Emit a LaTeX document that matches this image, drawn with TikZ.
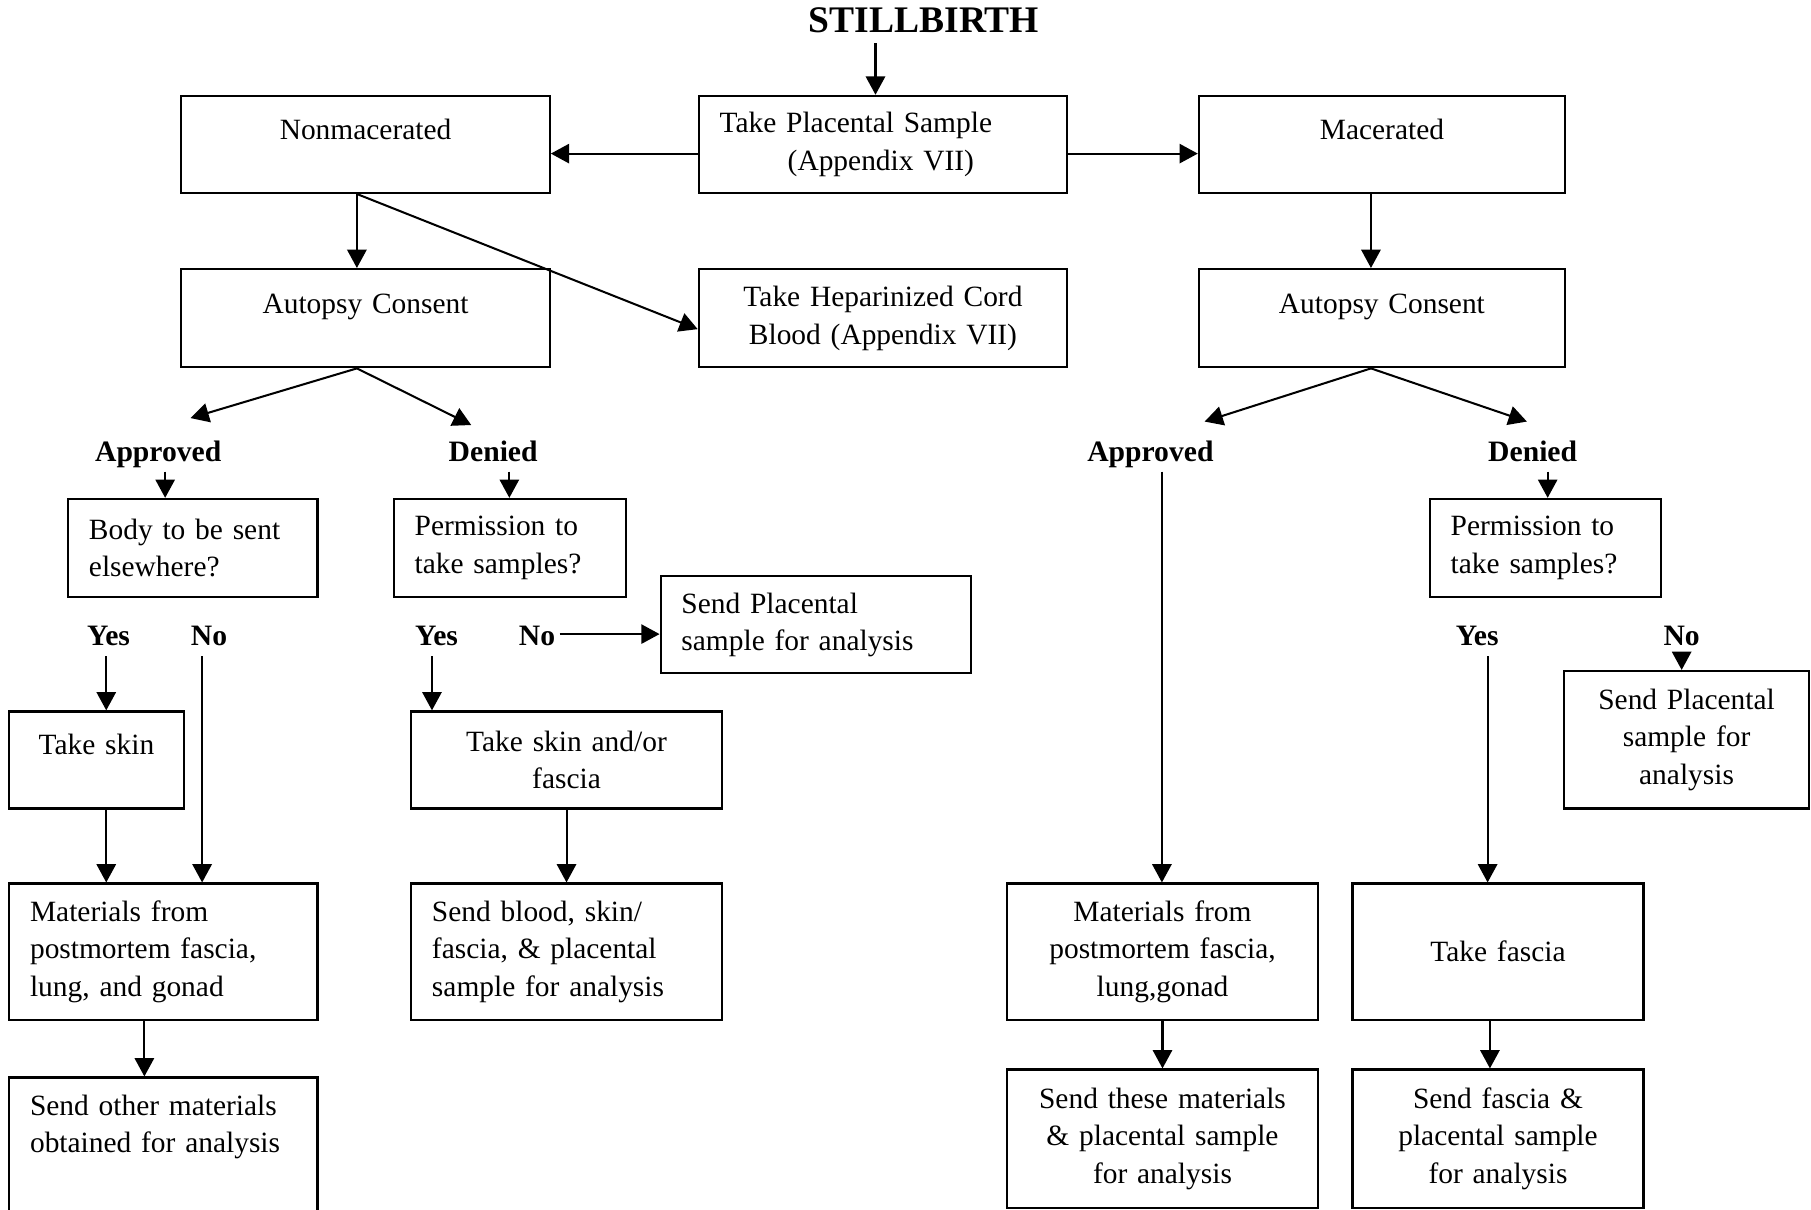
\documentclass[tikz,border=0pt]{standalone}
\usepackage{fontspec}
\setmainfont{Liberation Serif}
\usetikzlibrary{arrows.meta}
\tikzstyle{edge}=[->, >={Triangle[length=9pt,width=9.5pt]},
                  line width=1pt]
\tikzstyle{box}=[draw, rectangle, line width=1.1pt,
                 inner xsep=0.36cm, inner ysep=0pt]
\tikzstyle{uptext}=[text height=10pt, text depth=15pt]
\tikzstyle{lbl}=[font=\fontsize{14.6}{18.5}\selectfont\bfseries, inner sep=2pt,
                 text height=10pt, text depth=3pt]

\begin{document}
\begin{tikzpicture}[x=0.02cm, y=-0.02cm,
                    font=\fontsize{14.5}{18.5}\selectfont]
     \useasboundingbox (0,0) rectangle (1568,1047);
     \clip (0,0) rectangle (1568,1047);

     % top row
     \node (title) at (800,22) [lbl, font=\fontsize{18.5}{22}\selectfont\bfseries]{STILLBIRTH};
     \node (nmac) at (316.5,125) [box, uptext, align=center, text width=5.66cm, minimum height=1.68cm]{Nonmacerated};
     \node (tps) at (764.5,125) [box, align=left, text width=5.66cm, minimum height=1.68cm]{Take Placental Sample\\\hspace*{1.18cm}(Appendix VII)};
     \node (mac) at (1196.5,125) [box, uptext, align=center, text width=5.62cm, minimum height=1.68cm]{Macerated};

     \node (acl) at (316.5,275.5) [box, uptext, align=center, text width=5.66cm, minimum height=1.70cm]{Autopsy Consent};
     \node (hep) at (764.5,275.5) [box, align=center, text width=5.66cm, minimum height=1.70cm]{Take Heparinized Cord\\Blood (Appendix VII)};
     \node (acr) at (1196.5,275.5) [box, uptext, align=center, text width=5.62cm, minimum height=1.70cm]{Autopsy Consent};

     % outcome labels
     \node (appl) at (137,393) [lbl]{Approved};
     \node (denl) at (427,393) [lbl]{Denied};
     \node (appr) at (996,393) [lbl]{Approved};
     \node (denr) at (1327,393) [lbl]{Denied};

     \node (body) at (167,474.5) [box, align=left, text width=3.60cm, minimum height=1.70cm]{Body to be sent\\elsewhere?};
     \node (perl) at (441.5,474.5) [box, align=left, text width=3.30cm, minimum height=1.70cm]{Permission to\\take samples?};
     \node (pr) at (1338,474.5) [box, align=left, text width=3.28cm, minimum height=1.70cm]{Permission to\\take samples?};
     \node (spl) at (706.5,541) [box, align=left, text width=4.66cm, minimum height=1.68cm]{Send Placental\\sample for analysis};

     \node (yes1) at (94,553) [lbl]{Yes};
     \node (no1) at (181,553) [lbl]{No};
     \node (yes2) at (378,553) [lbl]{Yes};
     \node (no2) at (465,553) [lbl]{No};
     \node (yes3) at (1279,553) [lbl]{Yes};
     \node (no3) at (1456,553) [lbl]{No};

     \node (skin) at (83.5,658) [box, uptext, align=center, text width=2.30cm, minimum height=1.68cm]{Take skin};
     \node (skfa) at (490.5,658) [box, align=center, text width=4.66cm, minimum height=1.68cm]{Take skin and/or\\fascia};
     \node (sp2) at (1460.25,640.5) [box, align=center, text width=3.53cm, minimum height=2.38cm]{Send Placental\\sample for\\analysis};

     \node (matl) at (141.5,824) [box, align=left, text width=4.62cm, minimum height=2.36cm]{Materials from\\postmortem fascia,\\lung, and gonad};
     \node (sblood) at (490.5,824) [box, align=left, text width=4.66cm, minimum height=2.36cm]{Send blood, skin/\\fascia, \& placental\\sample for analysis};
     \node (mat2) at (1006.5,824) [box, align=center, text width=4.66cm, minimum height=2.36cm]{Materials from\\postmortem fascia,\\lung,gonad};
     \node (tfas) at (1297,824) [box, align=center, text width=4.32cm, minimum height=2.36cm]{Take fascia};

     \node (sother) at (141.5,932) [box, anchor=north, align=left, text width=4.62cm, inner ysep=0.3cm, text depth=2.2cm]{Send other materials\\obtained for analysis};
     \node (sthese) at (1006.5,986) [box, align=center, text width=4.66cm, minimum height=2.40cm]{Send these materials\\\& placental sample\\for analysis};
     \node (sfas) at (1297,986) [box, align=center, text width=4.32cm, minimum height=2.40cm]{Send fascia \&\\placental sample\\for analysis};

     % tips of the slanted arrows
     \coordinate (al) at (165,362);
     \coordinate (dl) at (408,368);
     \coordinate (ar) at (1043,365);
     \coordinate (dr) at (1322,365);

     \draw [edge] ([xshift=-0.84cm]title.south) -- ([xshift=-0.84cm]title.south |- tps.north);
     \draw [edge] ([yshift=-0.16cm]tps.west) -- ([yshift=-0.16cm]nmac.east);
     \draw [edge] ([yshift=-0.16cm]tps.east) -- ([yshift=-0.16cm]mac.west);
     \draw [edge] ([xshift=-0.15cm]nmac.south) -- ([xshift=-0.15cm]acl.north);
     \draw [edge] ([xshift=-0.15cm]nmac.south) -- ([yshift=-0.19cm]hep.west);
     \draw [edge] ([xshift=-0.19cm]mac.south) -- ([xshift=-0.19cm]acr.north);
     \draw [edge] ([xshift=-0.15cm]acl.south) -- (al);
     \draw [edge] ([xshift=-0.15cm]acl.south) -- (dl);
     \draw [edge] ([xshift=-0.19cm]acr.south) -- (ar);
     \draw [edge] ([xshift=-0.19cm]acr.south) -- (dr);
     \draw [edge] ([yshift=0.08cm]no2.east) -- ([yshift=0.08cm]no2.east -| spl.west);

     \foreach \u/\dx/\v in {appl/0.12cm/body, denl/0.28cm/perl, denr/0.26cm/pr,
                            yes1/-0.04cm/skin, no1/-0.12cm/matl, yes2/-0.08cm/skfa,
                            appr/0.2cm/mat2, yes3/0.18cm/tfas, no3/0cm/sp2,
                            skin/0.17cm/matl, matl/-0.33cm/sother, skfa/0cm/sblood,
                            mat2/0cm/sthese, tfas/-0.14cm/sfas}
       \draw [edge] ([xshift=\dx]\u.south) -- ([xshift=\dx]\u.south |- \v.north);
\end{tikzpicture}
\end{document}
